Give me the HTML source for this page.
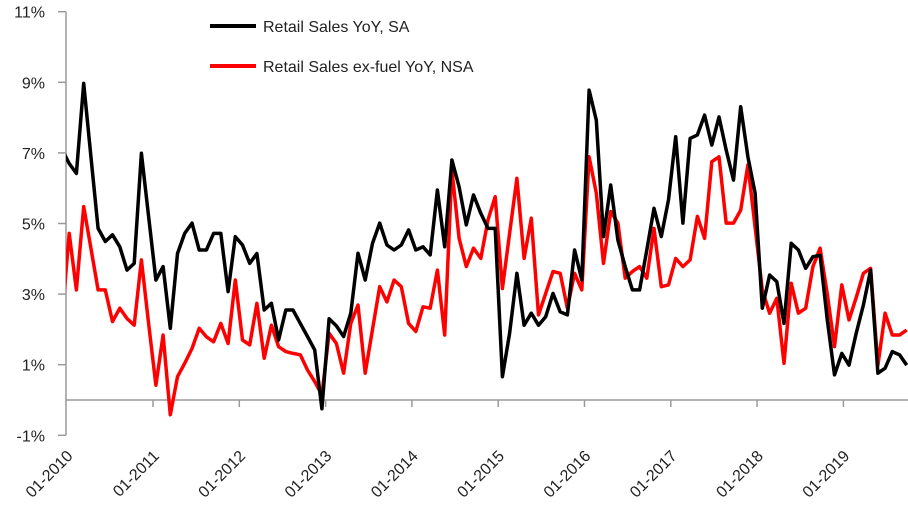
<!DOCTYPE html>
<html><head><meta charset="utf-8"><style>
html,body{margin:0;padding:0;background:#fff;}
svg{display:block;font-family:"Liberation Sans",sans-serif;}
</style></head><body>
<svg id="chart" width="908" height="525" viewBox="0 0 908 525">
<defs><clipPath id="plotclip"><rect x="66" y="0" width="842" height="525"/></clipPath></defs>
<g id="axes"></g>
<g id="series" clip-path="url(#plotclip)"></g>
<g id="legend">
<line x1="210" y1="26" x2="256" y2="26" stroke="#000" stroke-width="4"/>
<text x="263" y="32" font-size="16" fill="#222">Retail Sales YoY, SA</text>
<line x1="210" y1="66" x2="256" y2="66" stroke="#ff0000" stroke-width="4"/>
<text x="263" y="72" font-size="16" fill="#222">Retail Sales ex-fuel YoY, NSA</text>
</g>
</svg>
<script>
const yTicks=[11,9,7,5,3,1,-1];
const yTickLabels=["11%","9%","7%","5%","3%","1%","-1%"];
const xTickLabels=["01-2010","01-2011","01-2012","01-2013","01-2014","01-2015","01-2016","01-2017","01-2018","01-2019"];
const salesSA=[7.1,6.7,6.42,8.97,6.9,4.86,4.49,4.68,4.34,3.68,3.87,6.99,5.2,3.4,3.78,2.03,4.15,4.72,5.01,4.25,4.25,4.72,4.72,3.07,4.63,
4.39,3.87,4.15,2.55,2.74,1.7,2.55,2.55,2.17,1.8,1.42,-0.25,2.3,2.1,1.8,2.46,4.16,3.4,4.44,5.01,4.39,4.25,4.39,4.82,4.25,
4.34,4.11,5.95,4.34,6.8,6.04,4.96,5.81,5.29,4.86,4.86,0.66,1.89,3.59,2.12,2.46,2.12,2.36,3.02,2.5,2.41,4.25,3.4,8.78,7.93,
4.63,6.09,4.53,3.78,3.12,3.12,4.25,5.43,4.63,5.67,7.46,5.01,7.41,7.51,8.07,7.22,8.02,7.08,6.23,8.31,6.89,5.86,2.6,3.54,3.35,
2.17,4.44,4.25,3.73,4.06,4.1,2.27,0.71,1.32,0.99,1.89,2.69,3.68,0.76,0.9,1.37,1.28,0.99];
const salesExFuelNSA=[2.3,4.72,3.12,5.48,4.3,3.12,3.12,2.22,2.6,2.31,2.12,3.97,2.17,0.42,1.84,-0.42,0.66,1.04,1.46,2.03,1.79,1.65,2.17,1.6,3.4,
1.7,1.56,2.74,1.18,2.12,1.51,1.37,1.32,1.28,0.85,0.52,0.14,1.89,1.6,0.76,2.17,2.69,0.76,2.0,3.21,2.78,3.4,3.21,2.17,1.94,
2.64,2.6,3.68,1.84,6.52,4.58,3.78,4.3,4.01,5.1,5.76,3.16,4.72,6.28,4.01,5.15,2.41,3.02,3.64,3.59,2.6,3.59,3.12,6.89,5.86,
3.87,5.34,5.01,3.45,3.64,3.78,3.45,4.86,3.21,3.26,4.01,3.78,3.97,5.2,4.58,6.75,6.89,5.01,5.01,5.38,6.66,4.9,3.12,2.46,2.88,
1.04,3.31,2.46,2.6,3.78,4.3,3.0,1.51,3.26,2.27,2.9,3.59,3.73,0.99,2.46,1.84,1.84,1.98];

const NS='http://www.w3.org/2000/svg';
const X0=62, DX=7.22, AXX=66, TICK0=66.7, YEARW=86.3;
function yScale(v){return 400-v*35.3;}
function xScale(i){return X0+DX*i;}
function mk(tag,attrs,parent){const e=document.createElementNS(NS,tag);for(const k in attrs)e.setAttribute(k,attrs[k]);parent.appendChild(e);return e;}
const axes=document.getElementById('axes');
const yAxis=mk('line',{x1:AXX,y1:yScale(11),x2:AXX,y2:yScale(-1),stroke:'#9a9a9a','stroke-width':1.5},axes);


const xAxis=mk('line',{x1:AXX,y1:yScale(0),x2:908,y2:yScale(0),stroke:'#9a9a9a','stroke-width':1.5},axes);


yTicks.forEach((t,i)=>{
  const y=yScale(t);
  const tk=mk('line',{x1:AXX-8,y1:y,x2:AXX,y2:y,stroke:'#9a9a9a','stroke-width':1.5},axes);
  
  
  const lb=mk('text',{x:45,y:y+6,'text-anchor':'end','font-size':16,fill:'#222'},axes);
  lb.textContent=yTickLabels[i];
  
  
});
xTickLabels.forEach((t,i)=>{
  const x=TICK0+YEARW*i;
  if(i>0){
    const tk=mk('line',{x1:x,y1:yScale(0),x2:x,y2:yScale(0)+7,stroke:'#9a9a9a','stroke-width':1.5},axes);
    
    
  }
  const lb=mk('text',{x:0,y:0,'text-anchor':'end','font-size':16,fill:'#222',transform:`translate(${x+7},${457}) rotate(-45)`},axes);
  lb.textContent=t;
  
  
});
const series=document.getElementById('series');
function drawLine(vals,color,name){
  const pts=vals.map((v,i)=>xScale(i).toFixed(1)+','+yScale(v).toFixed(1)).join(' ');
  const pl=mk('polyline',{points:pts,fill:'none',stroke:color,'stroke-width':3.5,'stroke-linejoin':'round'},series);
  
  
}
drawLine(salesExFuelNSA,'#ff0000','line-retail-sales-ex-fuel-nsa');
drawLine(salesSA,'#000000','line-retail-sales-sa');
</script>
</body></html>
